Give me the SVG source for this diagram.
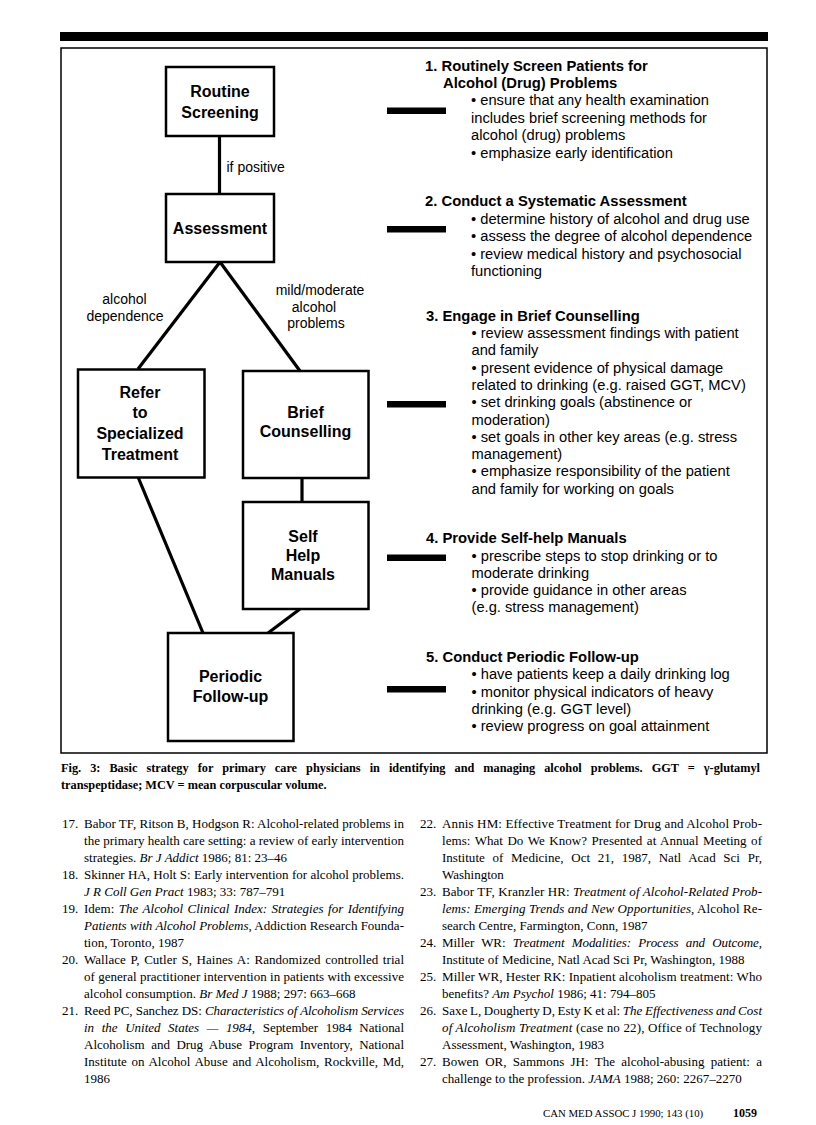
<svg xmlns="http://www.w3.org/2000/svg" width="816" height="1125" viewBox="0 0 816 1125">
<style>
.box{fill:#fff;stroke:#000;stroke-width:2.5}
.conn{stroke:#000;stroke-width:3.2;fill:none;stroke-linecap:butt}
.bar{fill:#000}
.bt{font-family:"Liberation Sans",Arial,Helvetica,sans-serif;font-weight:bold;font-size:16px;text-anchor:middle;fill:#000}
.lbl{font-family:"Liberation Sans",Arial,Helvetica,sans-serif;font-size:14px;text-anchor:middle;fill:#000}
.hd{font-family:"Liberation Sans",Arial,Helvetica,sans-serif;font-weight:bold;font-size:14.8px;fill:#000}
.tx{font-family:"Liberation Sans",Arial,Helvetica,sans-serif;font-size:14.7px;fill:#000}
.cap{font-family:"Liberation Serif","Times New Roman",serif;font-weight:bold;font-size:12.3px;fill:#000}
.ref{font-family:"Liberation Serif","Times New Roman",serif;font-size:13px;fill:#000}
.it{font-style:italic}
.ft{font-family:"Liberation Serif","Times New Roman",serif;font-size:10.8px;fill:#000}
</style>
<rect x="0" y="0" width="816" height="1125" fill="#fff"/>
<rect x="60" y="32" width="708" height="9" fill="#000"/>
<rect x="61" y="48" width="706" height="705" fill="none" stroke="#000" stroke-width="1.5"/>

<g id="connectors">
<line class="conn" x1="219.5" y1="136" x2="219.5" y2="194"/>
<line class="conn" x1="220" y1="262" x2="138" y2="369"/>
<line class="conn" x1="220" y1="262" x2="300" y2="371"/>
<line class="conn" x1="302" y1="478" x2="302" y2="502"/>
<line class="conn" x1="138" y1="477" x2="203" y2="633"/>
<line class="conn" x1="300" y1="609" x2="268" y2="633"/>
<text class="lbl" x="226.5" y="172" style="text-anchor:start">if positive</text>
<text class="lbl" x="124.5" y="303.5">alcohol</text>
<text class="lbl" x="125" y="320.5">dependence</text>
<text class="lbl" x="320" y="295">mild/moderate</text>
<text class="lbl" x="314" y="311.5">alcohol</text>
<text class="lbl" x="316" y="328">problems</text>
<rect class="bar" x="387" y="107.5" width="59" height="6.5"/>
<rect class="bar" x="387" y="226" width="59" height="6.5"/>
<rect class="bar" x="387" y="401" width="59" height="6.5"/>
<rect class="bar" x="387" y="554.5" width="59" height="6.5"/>
<rect class="bar" x="387" y="686" width="59" height="6.5"/>
</g>

<g id="node-routine-screening">
<rect class="box" x="166" y="67" width="108" height="69"/>
<text class="bt" x="220" y="97">Routine</text>
<text class="bt" x="220" y="118">Screening</text>
</g>
<g id="node-assessment">
<rect class="box" x="166" y="194" width="108" height="68"/>
<text class="bt" x="220" y="233.5">Assessment</text>
</g>
<g id="node-refer">
<rect class="box" x="78" y="369.5" width="126.5" height="108"/>
<text class="bt" x="140" y="397.5">Refer</text>
<text class="bt" x="140" y="418">to</text>
<text class="bt" x="140" y="438.5">Specialized</text>
<text class="bt" x="140" y="459.5">Treatment</text>
</g>
<g id="node-brief-counselling">
<rect class="box" x="243" y="371" width="125.5" height="107"/>
<text class="bt" x="305.5" y="417.5">Brief</text>
<text class="bt" x="305.5" y="437">Counselling</text>
</g>
<g id="node-self-help">
<rect class="box" x="243" y="502" width="125.5" height="107"/>
<text class="bt" x="303" y="542">Self</text>
<text class="bt" x="303" y="561">Help</text>
<text class="bt" x="303" y="579.5">Manuals</text>
</g>
<g id="node-follow-up">
<rect class="box" x="168" y="633" width="125.5" height="108"/>
<text class="bt" x="230.5" y="682">Periodic</text>
<text class="bt" x="230.5" y="702">Follow-up</text>
</g>

<g id="step-1">
<text class="hd" x="425" y="71">1. Routinely Screen Patients for</text>
<text class="hd" x="443" y="87.5">Alcohol (Drug) Problems</text>
<text class="tx" x="471" y="105">• ensure that any health examination</text>
<text class="tx" x="471" y="122.7">includes brief screening methods for</text>
<text class="tx" x="471" y="140.3">alcohol (drug) problems</text>
<text class="tx" x="471" y="158">• emphasize early identification</text>
</g>
<g id="step-2">
<text class="hd" x="425" y="206">2. Conduct a Systematic Assessment</text>
<text class="tx" x="471" y="223.5">• determine history of alcohol and drug use</text>
<text class="tx" x="471" y="241">• assess the degree of alcohol dependence</text>
<text class="tx" x="471" y="258.5">• review medical history and psychosocial</text>
<text class="tx" x="471" y="276">functioning</text>
</g>
<g id="step-3">
<text class="hd" x="426" y="320.5">3. Engage in Brief Counselling</text>
<text class="tx" x="471.5" y="338">• review assessment findings with patient</text>
<text class="tx" x="471.5" y="355.3">and family</text>
<text class="tx" x="471.5" y="372.6">• present evidence of physical damage</text>
<text class="tx" x="471.5" y="389.9">related to drinking (e.g. raised GGT, MCV)</text>
<text class="tx" x="471.5" y="407.2">• set drinking goals (abstinence or</text>
<text class="tx" x="471.5" y="424.5">moderation)</text>
<text class="tx" x="471.5" y="441.8">• set goals in other key areas (e.g. stress</text>
<text class="tx" x="471.5" y="459.1">management)</text>
<text class="tx" x="471.5" y="476.4">• emphasize responsibility of the patient</text>
<text class="tx" x="471.5" y="493.7">and family for working on goals</text>
</g>
<g id="step-4">
<text class="hd" x="426" y="543.3">4. Provide Self-help Manuals</text>
<text class="tx" x="471.5" y="561">• prescribe steps to stop drinking or to</text>
<text class="tx" x="471.5" y="578">moderate drinking</text>
<text class="tx" x="471.5" y="595.2">• provide guidance in other areas</text>
<text class="tx" x="471.5" y="612.4">(e.g. stress management)</text>
</g>
<g id="step-5">
<text class="hd" x="426" y="661.7">5. Conduct Periodic Follow-up</text>
<text class="tx" x="471.5" y="679.3">• have patients keep a daily drinking log</text>
<text class="tx" x="471.5" y="696.7">• monitor physical indicators of heavy</text>
<text class="tx" x="471.5" y="713.6">drinking (e.g. GGT level)</text>
<text class="tx" x="471.5" y="730.7">• review progress on goal attainment</text>
</g>

<g id="caption">
<text class="cap" x="61" y="772" word-spacing="6" textLength="699" lengthAdjust="spacing">Fig. 3: Basic strategy for primary care physicians in identifying and managing alcohol problems. GGT = γ-glutamyl</text>
<text class="cap" x="61" y="789">transpeptidase; MCV = mean corpuscular volume.</text>
</g>

<g id="references-left">
<text class="ref" x="62" y="828">17.</text>
<text class="ref" x="84" y="828" textLength="320" lengthAdjust="spacing">Babor TF, Ritson B, Hodgson R: Alcohol-related problems in</text>
<text class="ref" x="84" y="845" textLength="320" lengthAdjust="spacing">the primary health care setting: a review of early intervention</text>
<text class="ref" x="84" y="862">strategies. <tspan class="it">Br J Addict</tspan> 1986; 81: 23–46</text>
<text class="ref" x="62" y="879">18.</text>
<text class="ref" x="84" y="879" textLength="320" lengthAdjust="spacing">Skinner HA, Holt S: Early intervention for alcohol problems.</text>
<text class="ref" x="84" y="896"><tspan class="it">J R Coll Gen Pract</tspan> 1983; 33: 787–791</text>
<text class="ref" x="62" y="913">19.</text>
<text class="ref" x="84" y="913" word-spacing="1.3" textLength="320" lengthAdjust="spacing">Idem: <tspan class="it">The Alcohol Clinical Index: Strategies for Identifying</tspan></text>
<text class="ref" x="84" y="930" textLength="320" lengthAdjust="spacing"><tspan class="it">Patients with Alcohol Problems</tspan>, Addiction Research Founda-</text>
<text class="ref" x="84" y="947">tion, Toronto, 1987</text>
<text class="ref" x="62" y="964">20.</text>
<text class="ref" x="84" y="964" word-spacing="1.3" textLength="320" lengthAdjust="spacing">Wallace P, Cutler S, Haines A: Randomized controlled trial</text>
<text class="ref" x="84" y="981" textLength="320" lengthAdjust="spacing">of general practitioner intervention in patients with excessive</text>
<text class="ref" x="84" y="998">alcohol consumption. <tspan class="it">Br Med J</tspan> 1988; 297: 663–668</text>
<text class="ref" x="62" y="1015">21.</text>
<text class="ref" x="84" y="1015" textLength="320" lengthAdjust="spacing">Reed PC, Sanchez DS: <tspan class="it">Characteristics of Alcoholism Services</tspan></text>
<text class="ref" x="84" y="1032" word-spacing="4.4" textLength="320" lengthAdjust="spacing"><tspan class="it">in the United States — 1984</tspan>, September 1984 National</text>
<text class="ref" x="84" y="1049" word-spacing="3.2" textLength="320" lengthAdjust="spacing">Alcoholism and Drug Abuse Program Inventory, National</text>
<text class="ref" x="84" y="1066" word-spacing="1.4" textLength="320" lengthAdjust="spacing">Institute on Alcohol Abuse and Alcoholism, Rockville, Md,</text>
<text class="ref" x="84" y="1083">1986</text>
</g>

<g id="references-right">
<text class="ref" x="420" y="828">22.</text>
<text class="ref" x="442" y="828" textLength="320" lengthAdjust="spacing">Annis HM: Effective Treatment for Drug and Alcohol Prob-</text>
<text class="ref" x="442" y="845" word-spacing="1.2" textLength="320" lengthAdjust="spacing">lems: What Do We Know? Presented at Annual Meeting of</text>
<text class="ref" x="442" y="862" word-spacing="4.4" textLength="320" lengthAdjust="spacing">Institute of Medicine, Oct 21, 1987, Natl Acad Sci Pr,</text>
<text class="ref" x="442" y="879">Washington</text>
<text class="ref" x="420" y="896">23.</text>
<text class="ref" x="442" y="896" textLength="320" lengthAdjust="spacing">Babor TF, Kranzler HR: <tspan class="it">Treatment of Alcohol-Related Prob-</tspan></text>
<text class="ref" x="442" y="913" textLength="320" lengthAdjust="spacing"><tspan class="it">lems: Emerging Trends and New Opportunities</tspan>, Alcohol Re-</text>
<text class="ref" x="442" y="930">search Centre, Farmington, Conn, 1987</text>
<text class="ref" x="420" y="947">24.</text>
<text class="ref" x="442" y="947" word-spacing="4" textLength="320" lengthAdjust="spacing">Miller WR: <tspan class="it">Treatment Modalities: Process and Outcome</tspan>,</text>
<text class="ref" x="442" y="964">Institute of Medicine, Natl Acad Sci Pr, Washington, 1988</text>
<text class="ref" x="420" y="981">25.</text>
<text class="ref" x="442" y="981" textLength="320" lengthAdjust="spacing">Miller WR, Hester RK: Inpatient alcoholism treatment: Who</text>
<text class="ref" x="442" y="998">benefits? <tspan class="it">Am Psychol</tspan> 1986; 41: 794–805</text>
<text class="ref" x="420" y="1015">26.</text>
<text class="ref" x="442" y="1015" word-spacing="-0.8" textLength="320" lengthAdjust="spacing">Saxe L, Dougherty D, Esty K et al: <tspan class="it">The Effectiveness and Cost</tspan></text>
<text class="ref" x="442" y="1032" textLength="320" lengthAdjust="spacing"><tspan class="it">of Alcoholism Treatment</tspan> (case no 22), Office of Technology</text>
<text class="ref" x="442" y="1049">Assessment, Washington, 1983</text>
<text class="ref" x="420" y="1066">27.</text>
<text class="ref" x="442" y="1066" word-spacing="3.1" textLength="320" lengthAdjust="spacing">Bowen OR, Sammons JH: The alcohol-abusing patient: a</text>
<text class="ref" x="442" y="1083">challenge to the profession. <tspan class="it">JAMA</tspan> 1988; 260: 2267–2270</text>
</g>

<g id="footer">
<text class="ft" x="543" y="1117">CAN MED ASSOC J 1990; 143 (10)</text>
<text class="ft" x="757" y="1117" style="font-weight:bold;font-size:12px;text-anchor:end">1059</text>
</g>
</svg>
